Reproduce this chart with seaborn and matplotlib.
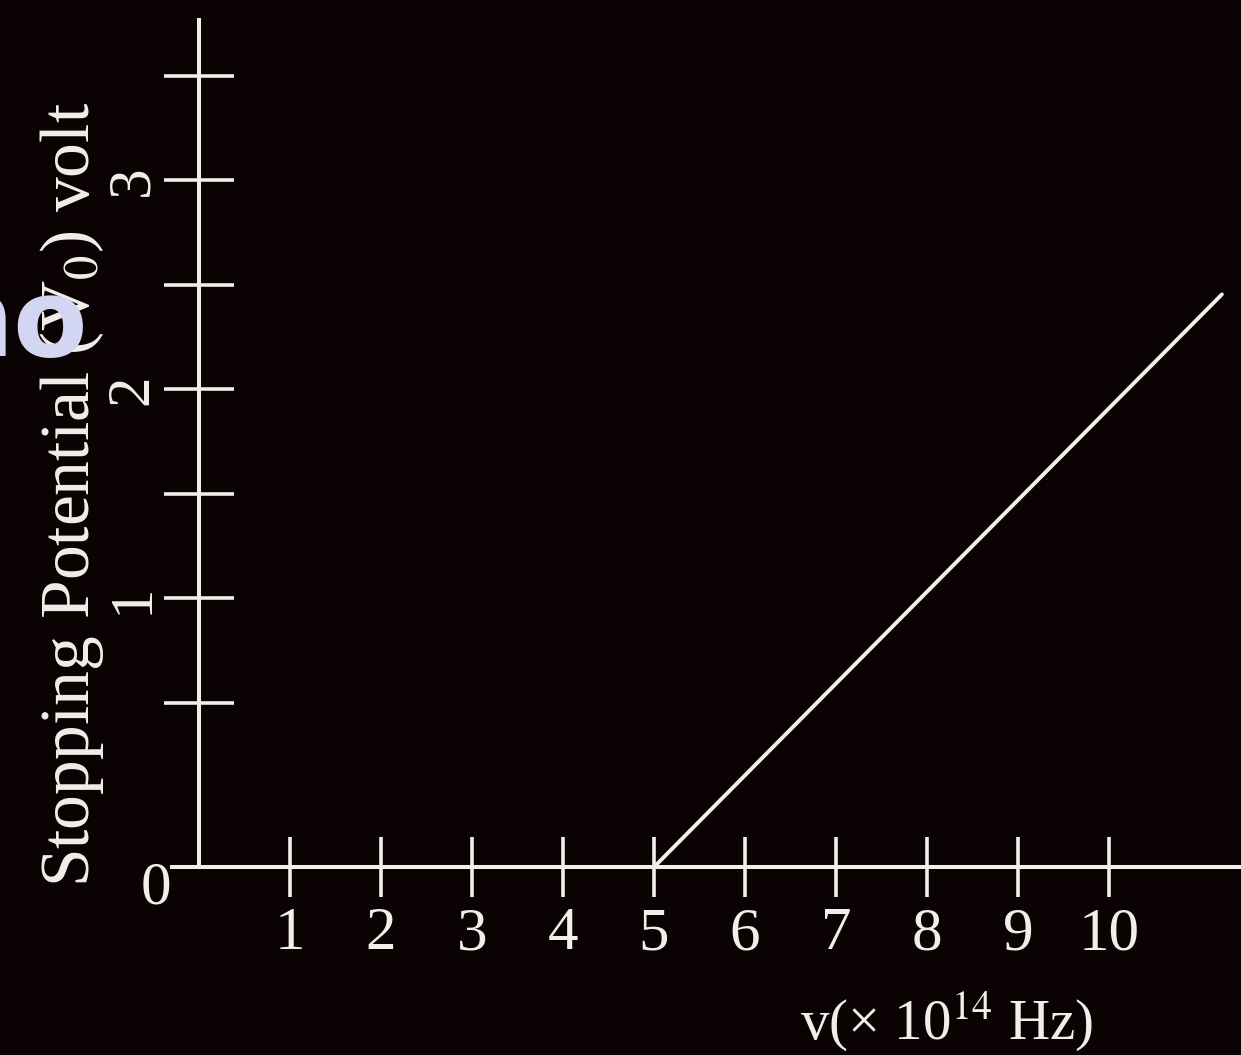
import matplotlib
matplotlib.use("Agg")
import matplotlib.pyplot as plt
import seaborn as sns
import pandas as pd

# Stopping potential vs frequency: threshold at 5 x 10^14 Hz
freq = [5.0, 11.24]
potential = [0.0, 2.74]

x_ticks = [1, 2, 3, 4, 5, 6, 7, 8, 9, 10]
x_tick_labels = ["1", "2", "3", "4", "5", "6", "7", "8", "9", "10"]
y_ticks = [0.785, 1.285, 1.785, 2.285, 2.785, 3.285, 3.785]
y_tick_labels = ["", "1", "", "2", "", "3", ""]

bg = "#0b0203"
fg = "#f2eeea"

sns.set_style("dark")
plt.rcParams["font.family"] = ["Liberation Serif", "DejaVu Serif"]
plt.rcParams["mathtext.fontset"] = "stix"

fig = plt.figure(figsize=(12.41, 10.55), dpi=100, facecolor=bg)
ax = fig.add_axes([172 / 1241, 1 - 867 / 1055, 1 - 172 / 1241, (867 - 20) / 1055])
ax.set_facecolor(bg)

df = pd.DataFrame({"freq": freq, "potential": potential})
sns.lineplot(data=df, x="freq", y="potential", ax=ax, color=fg, linewidth=2.8)

ax.set_xlim(-0.297, 11.45)
ax.set_ylim(0, 4.053)

for side in ("top", "right"):
    ax.spines[side].set_visible(False)
ax.spines["left"].set_position(("data", 0))
for side in ("left", "bottom"):
    ax.spines[side].set_color(fg)
    ax.spines[side].set_linewidth(2.9)

ax.set_xticks(x_ticks, x_tick_labels)
ax.set_yticks(y_ticks, y_tick_labels)
ax.tick_params(axis="x", bottom=True, direction="inout", length=43, width=2.6,
               color=fg, labelcolor=fg, labelsize=44, pad=7)
ax.tick_params(axis="y", left=True, direction="inout", length=50, width=2.6,
               color=fg, labelcolor=fg, labelsize=44, pad=3)
for lab in ax.get_yticklabels():
    lab.set_rotation(90)
    lab.set_va("center")
ax.grid(False)

ax.set_xlabel(r"v(× 10$^{14}$ Hz)", color=fg, fontsize=41)
ax.xaxis.set_label_coords((947 - 172) / 1069, -(1022 - 867) / 847)
ax.xaxis.label.set_va("center")
ax.set_ylabel(r"Stopping Potential (V$_0$) volt", color=fg, fontsize=50, va="center")
ax.yaxis.set_label_coords((72 - 172) / 1069, (867 - 495) / 847)

ax.text(-0.47, -0.105, "0", color=fg, fontsize=44, ha="center", va="center",
        clip_on=False)

fig.text(88 / 1241, 1 - 356 / 1055, "no", color="#d3d6f3", fontsize=78,
         fontweight="bold", family="DejaVu Sans", ha="right", va="baseline")

fig.savefig("out.png", dpi=100, facecolor=bg)
